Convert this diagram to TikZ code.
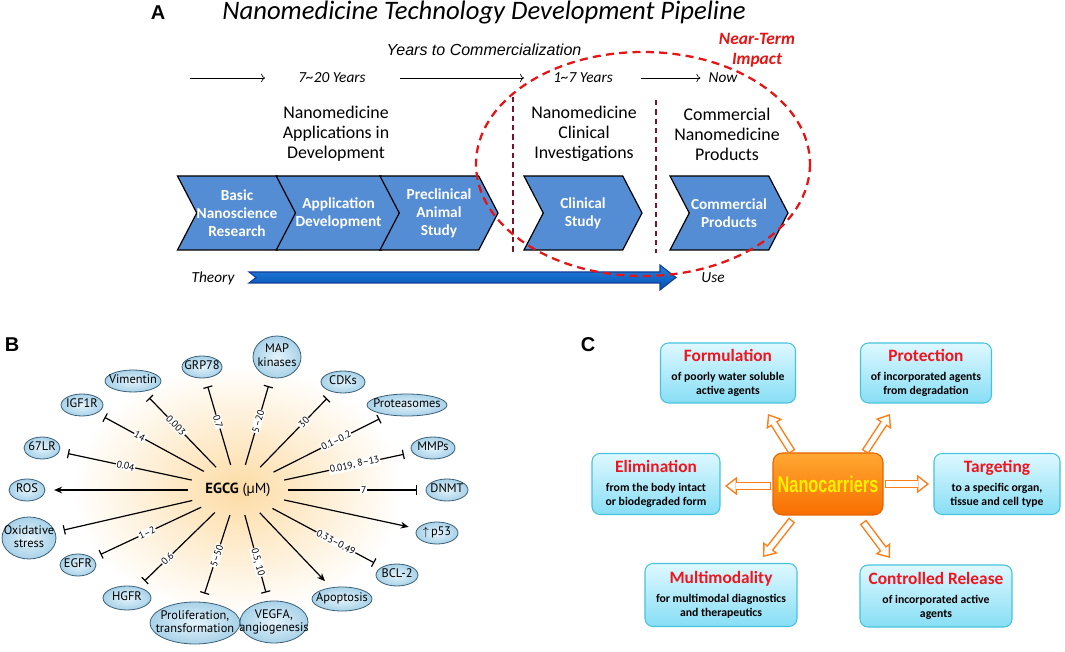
\documentclass[tikz,border=0pt]{standalone}
\usepackage{fontspec}
\setmainfont{Carlito}
\newfontfamily\arialfont{Liberation Sans}
\newfontfamily\gillfont{PT Sans}
\newfontfamily\narrowfont[FakeStretch=0.72]{Liberation Sans}
\usetikzlibrary{arrows.meta, shapes.geometric, shapes.symbols}

\definecolor{chevblue}{RGB}{84,141,212}
\definecolor{arrowtop}{RGB}{40,130,220}
\definecolor{arrowbot}{RGB}{0,80,180}
\definecolor{arrowedge}{RGB}{20,60,150}
\definecolor{impactred}{RGB}{230,20,20}
\definecolor{phasered}{RGB}{120,20,40}
\definecolor{balloon}{RGB}{168,210,232}
\definecolor{balloonlight}{RGB}{228,243,251}
\definecolor{balloonedge}{RGB}{60,95,120}
\definecolor{glow}{RGB}{253,220,165}
\definecolor{boxtop}{RGB}{222,248,255}
\definecolor{boxbottom}{RGB}{135,222,245}
\definecolor{boxedge}{RGB}{70,195,220}
\definecolor{titlered}{RGB}{240,20,30}
\definecolor{nanotop}{RGB}{255,168,50}
\definecolor{nanobottom}{RGB}{248,110,0}
\definecolor{nanoedge}{RGB}{230,100,0}
\definecolor{carrierorange}{RGB}{255,125,20}
\definecolor{nanoyellow}{RGB}{255,240,0}

\newcommand\fsz[2]{\fontsize{#1}{#2}\selectfont}
\newcommand\zb[1]{\makebox[0pt]{\begin{tabular}{@{}c@{}}#1\end{tabular}}}
\newcommand\hollowarrow[2]{\draw[hollowout] (#1) -- (#2); \draw[hollowin] (#1) -- (#2);}

\tikzset{
  panel/.style={font=\arialfont\bfseries\fsz{15pt}{18pt}},
  chev/.style={signal, signal from=west, signal to=east, signal pointer angle=125,
    draw=black, line width=0.9pt, fill=chevblue, minimum width=88.5pt, minimum height=55.5pt,
    inner sep=0pt, text=white, align=center, font=\bfseries\fsz{11.5pt}{13.5pt}},
  head/.style={align=center, font=\fsz{13.4pt}{15pt}},
  yrs/.style={inner sep=0pt, font=\itshape\fsz{11.5pt}{13pt}},
  timearrow/.style={-{To[length=3pt]}, line width=0.5pt},
  phase/.style={phasered, line width=1.4pt, dash pattern=on 4pt off 3pt},
  theoryarrow/.style={draw=arrowedge, line width=0.8pt, top color=arrowtop, bottom color=arrowbot},
  bnode/.style 2 args={ellipse, draw=balloonedge, line width=0.6pt, inner color=balloonlight,
    outer color=balloon, inner sep=0pt, minimum width=#1*0.75pt, minimum height=#2*0.75pt,
    font=\gillfont\fsz{9.3pt}{10pt}},
  numlab/.style={sloped, fill=white, inner sep=0.6pt, font=\gillfont\fsz{7.3pt}{8pt}},
  inh/.style={line width=0.9pt, shorten >=6.5pt, -{Bar[width=7pt, line width=0.9pt]}},
  act/.style={line width=0.9pt, shorten >=6.5pt, -{Stealth[length=6pt, width=5pt]}},
  cbox/.style={draw=boxedge, line width=0.8pt, rounded corners=6pt, top color=boxtop,
    bottom color=boxbottom, align=center, inner sep=0pt, font=\bfseries\fsz{8.8pt}{11pt}},
  nanobox/.style={draw=nanoedge, line width=0.8pt, rounded corners=7pt, top color=nanotop,
    bottom color=nanobottom, minimum width=82.5pt, minimum height=46.5pt, text=nanoyellow,
    font=\narrowfont\bfseries\fsz{17pt}{19pt}},
  hollowout/.style={carrierorange, line width=6pt, -{Triangle[length=9pt, width=14pt, line width=0pt]}},
  hollowin/.style={white, line width=3.8pt, shorten <=1.1pt, shorten >=1.8pt,
    -{Triangle[length=6.1pt, width=9.5pt, line width=0pt]}}
}

\begin{document}
\begin{tikzpicture}[x=0.75pt, y=-0.75pt]
\useasboundingbox (0,0) rectangle (1065,652);

% A: pipeline
\node[panel] (pa) at (158,13) {A};
\node[font=\itshape\fsz{20pt}{24pt}] (title) at (484,13) {Nanomedicine Technology Development Pipeline};
\node[font=\arialfont\itshape\fsz{12pt}{14pt}] (ytc) at (484,50) {Years to Commercialization};
\node[yrs] (y720) at (332,78) {7\textasciitilde20 Years};
\node[yrs] (y17) at (583,78) {1\textasciitilde7 Years};
\node[yrs] (now) at (723,78) {Now};
\coordinate (t0) at (190,78);
\draw[timearrow, shorten >=24.75pt] (t0) -- (y720);
\draw[timearrow, shorten <=25.5pt, shorten >=21.75pt] (y720) -- (y17);
\draw[timearrow, shorten <=21pt, shorten >=6pt] (y17) -- (now);
\node[align=center, text=impactred, font=\bfseries\itshape\fsz{13pt}{15pt}] (impact) at (757,50) {Near-Term\\Impact};

\node[head] (hdev) at (336,134) {Nanomedicine\\Applications in\\Development};
\node[head] (hclin) at (584,134) {Nanomedicine\\Clinical\\Investigations};
\node[head] (hcom) at (727,134) {Commercial\\Nanomedicine\\Products};

\node[chev] (basic) at (237,213) {Basic\\Nanoscience\\Research};
\node[chev] (appdev) at (338.5,213) {Application\\Development};
\node[chev] (precl) at (439,213) {Preclinical\\Animal\\Study};
\node[chev] (clin) at (583,213) {Clinical\\Study};
\node[chev] (comm) at (729,213) {Commercial\\Products};

\draw[phase] (513,97) -- (513,253);
\draw[phase] (656,100) -- (656,253);

\node[yrs] (theory) at (213,278) {Theory};
\node[yrs] (use) at (713,278) {Use};
\draw[theoryarrow] (249,272) -- (660,272) -- (660,265) -- (676,277.5) -- (660,290) -- (660,283) -- (249,283) -- (256,277.5) -- cycle;

\draw[impactred, line width=1.7pt, dash pattern=on 6pt off 4pt] (643,164) ellipse [x radius=167, y radius=112];

% B: EGCG targets
\shade[inner color=glow, outer color=white] (238,490) ellipse [x radius=165, y radius=125];
\node[panel] (pb) at (12,345) {B};
\node[ellipse, inner sep=0pt, minimum width=75pt, minimum height=37.5pt, font=\gillfont\fsz{11pt}{12pt}] (egcg) at (238,490) {\zb{\textbf{EGCG} (µM)}};

\node[bnode={40}{22}] (grp) at (202,367) {\zb{GRP78}};
\node[bnode={56}{22}] (vim) at (133,381) {\zb{Vimentin}};
\node[bnode={42}{22}] (igf) at (82,405) {\zb{IGF1R}};
\node[bnode={36}{22}] (lr) at (42,448) {\zb{67LR}};
\node[bnode={36}{22}] (ros) at (27,490) {\zb{ROS}};
\node[bnode={54}{42}] (oxs) at (29,538) {\zb{Oxidative\\stress}};
\node[bnode={36}{22}] (egfr) at (78,565) {\zb{EGFR}};
\node[bnode={48}{24}] (hgfr) at (127,598) {\zb{HGFR}};
\node[bnode={90}{42}] (prolif) at (195,623) {\zb{Proliferation,\\transformation}};
\node[bnode={68}{42}] (vegf) at (274,622) {\zb{VEGFA,\\angiogenesis}};
\node[bnode={60}{24}] (apo) at (342,599) {\zb{Apoptosis}};
\node[bnode={42}{22}] (bcl) at (397,575) {\zb{BCL-2}};
\node[bnode={42}{22}] (pf) at (437,533) {\zb{$\uparrow$\,p53}};
\node[bnode={42}{22}] (dnmt) at (447,490) {\zb{DNMT}};
\node[bnode={44}{22}] (mmp) at (433,448) {\zb{MMPs}};
\node[bnode={80}{22}] (prot) at (407,405) {\zb{Proteasomes}};
\node[bnode={44}{22}] (cdk) at (343,382) {\zb{CDKs}};
\node[bnode={48}{42}] (mapk) at (277,357) {\zb{MAP\\kinases}};

\foreach \n/\v/\p in {grp/0.7/0.5, vim/0.003/0.55, igf/14/0.6, lr/0.04/0.5,
    egfr/1\textendash2/0.5, hgfr/0.6/0.62, prolif/5\textendash50/0.47, vegf/{0.5, 10}/0.55,
    bcl/0.33\textendash0.49/0.58, dnmt/7/0.55, mmp/{0.019, 8\textendash13}/0.55,
    prot/0.1\textendash0.2/0.55, cdk/30/0.6, mapk/5\textendash20/0.5}
  \draw[inh] (egcg) -- (\n) node[numlab, pos=\p] {\v};
\draw[inh] (egcg) -- (oxs);
\draw[act] (egcg) -- (ros);
\draw[act] (egcg) -- (pf);
\draw[act] (egcg) -- (apo);

% C: nanocarriers
\node[panel] (pc) at (588,345) {C};
\node[nanobox] (nano) at (828,484) {Nanocarriers};
\node[cbox, minimum width=101.25pt, minimum height=45pt] (form) at (728,373)
  {{\color{titlered}\fsz{13pt}{14pt}Formulation}\\[3pt]of poorly water soluble\\active agents};
\node[cbox, minimum width=98.25pt, minimum height=45pt] (prot) at (926,373)
  {{\color{titlered}\fsz{13pt}{14pt}Protection}\\[3pt]of incorporated agents\\from degradation};
\node[cbox, minimum width=96pt, minimum height=45.75pt] (elim) at (656,484)
  {{\color{titlered}\fsz{13pt}{14pt}Elimination}\\[3pt]from the body intact\\or biodegraded form};
\node[cbox, minimum width=94.5pt, minimum height=45.75pt] (targ) at (997,484)
  {{\color{titlered}\fsz{13pt}{14pt}Targeting}\\[3pt]to a specific organ,\\tissue and cell type};
\node[cbox, minimum width=114pt, minimum height=47.25pt] (multi) at (721,595)
  {{\color{titlered}\fsz{13pt}{14pt}Multimodality}\\[3pt]for multimodal diagnostics\\and therapeutics};
\node[cbox, minimum width=114pt, minimum height=46.5pt] (ctrl) at (936,596)
  {{\color{titlered}\fsz{13pt}{14pt}Controlled Release}\\[3pt]of incorporated active\\agents};

\coordinate (fo1) at (792,452); \coordinate (fo2) at (768,414);
\coordinate (pr1) at (865,452); \coordinate (pr2) at (890,414);
\coordinate (el1) at (771,486); \coordinate (el2) at (725,486);
\coordinate (ta1) at (885,484); \coordinate (ta2) at (929,484);
\coordinate (mu1) at (792,520); \coordinate (mu2) at (763,557);
\coordinate (co1) at (863,522); \coordinate (co2) at (890,558);
\hollowarrow{fo1}{fo2}
\hollowarrow{pr1}{pr2}
\hollowarrow{el1}{el2}
\hollowarrow{ta1}{ta2}
\hollowarrow{mu1}{mu2}
\hollowarrow{co1}{co2}
\end{tikzpicture}
\end{document}
